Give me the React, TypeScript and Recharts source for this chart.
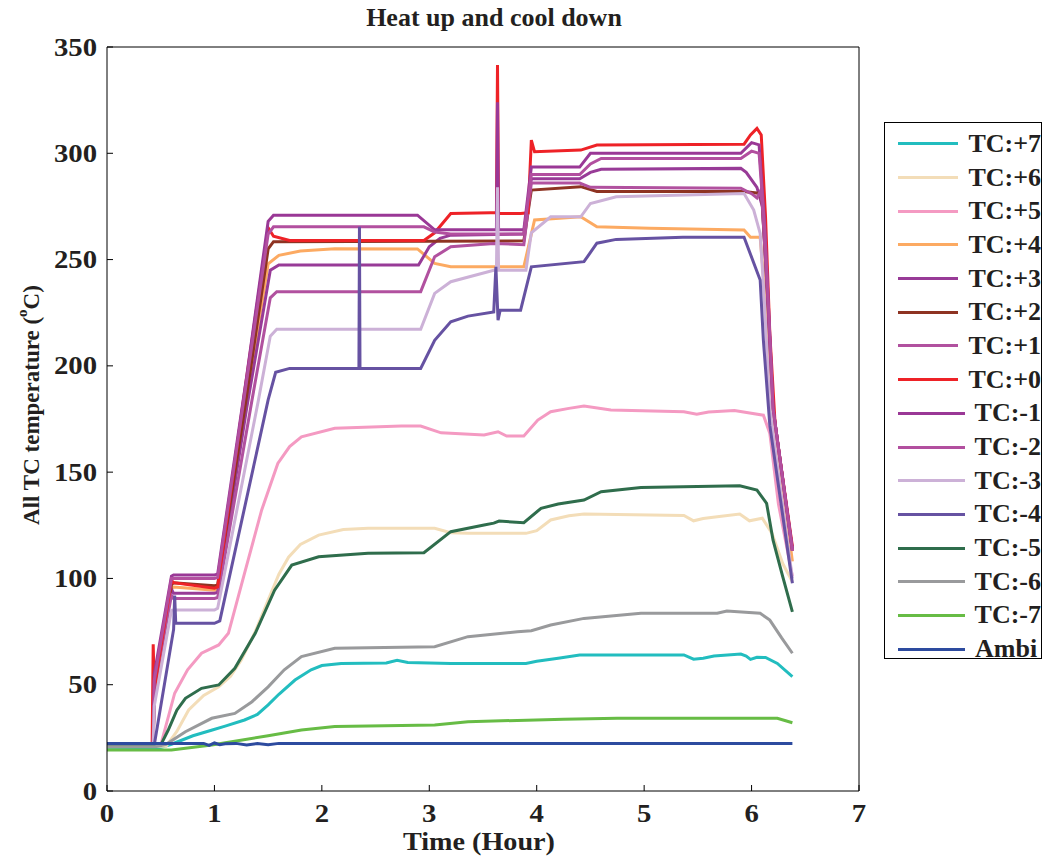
import React from 'react';
import { LineChart, Line, XAxis, YAxis } from 'recharts';

// time (hour) / temperature (degC) pairs
const tcP7 = [[0, 20.5], [0.5, 20.5], [0.6, 22], [0.8, 26], [0.98, 28.7], [1.1, 30.5], [1.28, 33.4], [1.4, 36], [1.5, 40.5], [1.6, 45.5], [1.75, 52.2], [1.9, 57], [2.0, 59], [2.18, 60], [2.6, 60.2], [2.7, 61.5], [2.8, 60.5], [3.2, 60], [3.9, 60], [4.0, 61], [4.2, 62.5], [4.4, 64], [5.37, 64], [5.46, 62], [5.55, 62.5], [5.65, 63.5], [5.9, 64.4], [5.95, 63.5], [5.99, 61.9], [6.05, 62.9], [6.13, 62.8], [6.24, 60], [6.38, 53.8]];
const tcP6 = [[0, 20.8], [0.55, 21], [0.65, 28], [0.76, 38.1], [0.9, 45], [1.04, 49], [1.15, 54], [1.25, 61.6], [1.38, 75], [1.5, 89.8], [1.6, 102], [1.69, 110], [1.8, 116], [1.97, 120.4], [2.2, 123], [2.43, 123.6], [3.05, 123.6], [3.2, 121.5], [3.36, 121.2], [3.9, 121.2], [4.0, 122.5], [4.13, 127.5], [4.3, 129.5], [4.44, 130.3], [5.37, 129.6], [5.46, 127.1], [5.55, 128.2], [5.68, 129], [5.89, 130.3], [5.98, 127.1], [6.1, 128.3], [6.19, 121.2], [6.29, 107], [6.38, 98.4]];
const tcP5 = [[0, 21.6], [0.5, 21.6], [0.63, 46], [0.75, 57], [0.88, 64.8], [1.04, 68.7], [1.13, 74.2], [1.28, 102.4], [1.44, 132.2], [1.59, 154.1], [1.7, 162], [1.81, 166.6], [2.12, 170.6], [2.74, 171.7], [2.92, 171.7], [3.11, 168.5], [3.51, 167.5], [3.64, 169], [3.72, 167], [3.88, 167], [4.01, 174.5], [4.13, 178.4], [4.3, 180], [4.44, 181.1], [4.69, 179.2], [5.37, 178.4], [5.49, 177.3], [5.6, 178.3], [5.84, 179], [6.11, 176.8], [6.17, 168.2], [6.25, 135], [6.38, 101]];
const tcP4 = [[0, 21.6], [0.43, 21.6], [0.44, 45], [0.6, 95], [0.62, 96], [1.0, 94.5], [1.03, 95], [1.3, 185], [1.5, 248], [1.6, 252], [1.8, 254], [2.12, 255.1], [2.89, 255], [3.05, 248.2], [3.2, 246.6], [3.88, 246.6], [3.98, 268.6], [4.41, 270.1], [4.56, 265.4], [5.05, 264.7], [5.93, 263.9], [5.99, 260.5], [6.08, 260.5], [6.14, 225], [6.2, 178], [6.38, 108]];
const tcP3 = [[0, 21.6], [0.43, 21.6], [0.44, 50], [0.6, 95], [0.62, 93], [1.0, 93], [1.03, 93.5], [1.3, 180], [1.52, 245], [1.6, 247.5], [2.9, 247.4], [3.0, 256], [3.1, 260], [3.2, 261.5], [3.88, 262], [3.95, 288], [4.4, 288], [4.5, 291], [4.6, 292.5], [5.9, 292.9], [5.95, 291], [6.05, 284], [6.1, 275], [6.15, 232], [6.2, 180], [6.38, 113]];
const tcP2 = [[0, 21.6], [0.43, 21.6], [0.44, 48], [0.6, 97], [0.62, 98], [1.0, 96.5], [1.03, 97], [1.3, 186], [1.5, 255], [1.55, 258.4], [3.88, 258.8], [3.95, 282.7], [4.41, 284.3], [4.56, 282], [5.93, 282], [6.08, 281.1], [6.1, 276], [6.15, 232], [6.2, 180], [6.38, 113]];
const tcP1 = [[0, 21.6], [0.43, 21.6], [0.44, 48], [0.6, 92], [0.62, 90.6], [1.0, 90.6], [1.03, 91], [1.35, 184], [1.52, 232], [1.58, 234.9], [2.92, 234.9], [3.05, 251.3], [3.2, 256], [3.6, 257.6], [3.88, 257], [3.95, 286], [4.4, 286], [4.5, 284], [5.9, 283.6], [6.0, 281], [6.05, 279], [6.08, 282], [6.1, 276], [6.15, 232], [6.2, 180], [6.38, 113]];
const tcP0 = [[0, 21.6], [0.42, 21.6], [0.43, 69], [0.44, 48], [0.6, 99], [0.62, 98], [1.0, 95.4], [1.03, 96], [1.27, 184], [1.5, 265], [1.55, 261], [1.7, 259], [2.95, 259], [3.05, 262.6], [3.2, 271.7], [3.57, 272], [3.625, 272], [3.635, 341.5], [3.645, 271.7], [3.85, 271.7], [3.92, 272], [3.95, 306.2], [3.98, 300.7], [4.41, 301.5], [4.56, 303.9], [5.93, 304.3], [5.99, 308.6], [6.05, 311.7], [6.09, 308.6], [6.13, 270], [6.17, 215], [6.22, 172], [6.38, 115]];
const tcM1 = [[0, 21.6], [0.43, 21.6], [0.44, 55], [0.6, 101], [0.62, 101.6], [1.0, 101.6], [1.03, 102], [1.3, 195], [1.5, 268], [1.55, 270.9], [2.89, 270.9], [3.05, 264], [3.625, 264], [3.635, 324], [3.645, 264], [3.88, 264], [3.95, 293.5], [4.4, 293.5], [4.5, 300], [5.9, 300], [6.0, 305], [6.07, 304], [6.12, 268], [6.16, 225], [6.2, 180], [6.38, 114]];
const tcM2 = [[0, 21.6], [0.43, 21.6], [0.44, 52], [0.6, 100], [0.62, 100], [1.0, 100], [1.03, 100.5], [1.3, 193], [1.5, 262], [1.55, 265.4], [2.95, 265.4], [3.05, 263], [3.2, 262], [3.88, 262], [3.95, 290], [4.4, 290], [4.5, 295], [4.6, 297.6], [5.9, 297.6], [6.0, 301], [6.07, 300], [6.12, 266], [6.16, 225], [6.2, 180], [6.38, 113]];
const tcM3 = [[0, 21.6], [0.43, 21.6], [0.44, 40], [0.6, 85], [0.62, 85.1], [1.0, 85.1], [1.03, 86], [1.41, 184], [1.52, 214], [1.58, 217.2], [2.92, 217.2], [3.05, 234.1], [3.2, 239.6], [3.6, 245], [3.625, 245], [3.635, 284], [3.645, 245], [3.9, 245], [3.95, 262.6], [4.13, 270.1], [4.41, 270.1], [4.5, 276.4], [4.74, 279.5], [5.93, 281.1], [6.02, 273.3], [6.08, 262.3], [6.12, 230], [6.17, 180], [6.38, 100]];
const tcM4 = [[0, 21.6], [0.44, 21.6], [0.62, 76], [0.63, 92], [0.64, 78.9], [1.0, 78.9], [1.05, 80], [1.5, 184], [1.57, 197], [1.7, 198.8], [2.345, 198.8], [2.35, 265.4], [2.355, 198.8], [2.92, 198.8], [3.05, 212], [3.2, 220.7], [3.36, 223.4], [3.6, 225.4], [3.62, 246.6], [3.64, 221.5], [3.66, 226.2], [3.85, 226.2], [3.95, 246.6], [4.44, 249], [4.56, 257.7], [4.74, 259.5], [5.36, 260.5], [5.93, 260.5], [6.08, 240.4], [6.11, 212], [6.17, 172], [6.38, 97.7]];
const tcM5 = [[0, 21.6], [0.5, 21.6], [0.57, 28.7], [0.65, 38], [0.73, 43.6], [0.88, 48.3], [1.04, 49.9], [1.19, 57.7], [1.38, 74.2], [1.56, 94.5], [1.72, 106.3], [1.97, 110.2], [2.43, 111.8], [2.95, 112.1], [3.2, 122], [3.51, 125.1], [3.6, 126], [3.65, 127], [3.88, 126.2], [4.04, 133], [4.2, 135], [4.44, 136.9], [4.6, 140.8], [4.97, 142.8], [5.89, 143.6], [6.05, 141.6], [6.14, 135.3], [6.2, 118], [6.29, 100.8], [6.38, 84.3]];
const tcM6 = [[0, 20.8], [0.45, 20.8], [0.55, 22], [0.73, 27.9], [0.975, 34.2], [1.19, 36.5], [1.35, 42], [1.5, 49], [1.65, 57], [1.81, 63.2], [2.12, 67.1], [3.05, 67.9], [3.36, 72.6], [3.82, 74.9], [3.95, 75.4], [4.13, 78.1], [4.44, 81.2], [4.97, 83.6], [5.68, 83.6], [5.77, 84.7], [6.08, 83.6], [6.17, 80.4], [6.28, 72], [6.38, 64.8]];
const tcM7 = [[0, 19.3], [0.6, 19.3], [0.975, 21.6], [1.16, 23.2], [1.5, 26], [1.81, 28.7], [2.12, 30.3], [3.05, 31], [3.36, 32.6], [3.82, 33.2], [4.25, 33.7], [4.75, 34.2], [6.24, 34.2], [6.38, 32.1]];
const ambi = [[0, 22.4], [0.9, 22.4], [0.95, 21.5], [1.0, 22.6], [1.05, 21.8], [1.1, 22.2], [1.2, 22.4], [1.3, 21.6], [1.4, 22.3], [1.5, 21.8], [1.6, 22.4], [6.38, 22.4]];

const xTicks = [0, 1, 2, 3, 4, 5, 6, 7];
const yTicks = [0, 50, 100, 150, 200, 250, 300, 350];

const series = [
  { name: 'TC:+7', color: '#22BDBF', pts: tcP7 },
  { name: 'TC:+6', color: '#F3DDB8', pts: tcP6 },
  { name: 'TC:+5', color: '#F49AC2', pts: tcP5 },
  { name: 'TC:+4', color: '#FCAA62', pts: tcP4 },
  { name: 'TC:+3', color: '#983B97', pts: tcP3 },
  { name: 'TC:+2', color: '#8E3322', pts: tcP2 },
  { name: 'TC:+1', color: '#B1519F', pts: tcP1 },
  { name: 'TC:+0', color: '#EE2227', pts: tcP0 },
  { name: 'TC:-1', color: '#9A3896', pts: tcM1 },
  { name: 'TC:-2', color: '#B24F9F', pts: tcM2 },
  { name: 'TC:-3', color: '#CCB1D7', pts: tcM3 },
  { name: 'TC:-4', color: '#6652A2', pts: tcM4 },
  { name: 'TC:-5', color: '#2F6D4C', pts: tcM5 },
  { name: 'TC:-6', color: '#999A9C', pts: tcM6 },
  { name: 'TC:-7', color: '#67BC45', pts: tcM7 },
  { name: 'Ambi', color: '#2D4B9F', pts: ambi },
];

const FONT = "'Times New Roman', 'Liberation Serif', serif";
const INK = '#231F20';

const toData = (pts: number[][]) => pts.map(([t, v]) => ({ t, v }));

// tick labels in the original are a bit wider than plain Times, so stretch them sideways
const XTick = ({ x, y, payload }: any) => (
  <g transform={`translate(${x},${y + 21})`}>
    <text transform="scale(1.15,1)" textAnchor="middle" fontSize={25} fontWeight="bold" fill={INK} fontFamily={FONT}>
      {payload.value}
    </text>
  </g>
);

const YTick = ({ x, y, payload }: any) => (
  <g transform={`translate(${x},${y + 8.5})`}>
    <text transform="scale(1.15,1)" textAnchor="end" fontSize={25} fontWeight="bold" fill={INK} fontFamily={FONT}>
      {payload.value}
    </text>
  </g>
);

export default function App() {
  return (
    <div style={{ position: 'absolute', left: 0, top: 0, width: 1052, height: 863, background: '#fff', fontFamily: FONT }}>
      <div style={{ position: 'absolute', left: 294, top: 5, width: 400, textAlign: 'center', fontSize: 26, lineHeight: '26px', fontWeight: 'bold', color: INK }}>
        Heat up and cool down
      </div>

      <LineChart width={1052} height={863} margin={{ top: 46, right: 192, bottom: 0, left: 0 }}>
        <XAxis
          dataKey="t" type="number" domain={[0, 7]} ticks={xTicks} allowDataOverflow
          height={72} tickSize={-6} tickMargin={16} tick={<XTick />}
          axisLine={{ stroke: '#000' }} tickLine={{ stroke: '#000' }}
          label={{ content: () => <text x={479} y={850} textAnchor="middle" fontSize={26} textLength={152} lengthAdjust="spacingAndGlyphs" fontWeight="bold" fill={INK} fontFamily={FONT}>Time (Hour)</text> }}
        />
        <XAxis
          xAxisId="top" orientation="top" type="number" domain={[0, 7]} ticks={xTicks}
          height={1} tickSize={-6} tick={false} axisLine={{ stroke: '#000' }} tickLine={{ stroke: '#000' }}
        />
        <YAxis
          type="number" domain={[0, 350]} ticks={yTicks} allowDataOverflow
          width={107} tickSize={-6} tickMargin={16} tick={<YTick />}
          axisLine={{ stroke: '#000' }} tickLine={{ stroke: '#000' }}
          label={{
            content: () => (
              <text x={31} y={405} transform="rotate(-90 31 405)" textAnchor="middle" dominantBaseline="central" fontSize={23} fontWeight="bold" fill={INK} fontFamily={FONT}>
                All TC temperature (<tspan dy={-9} fontSize={15}>o</tspan><tspan dy={9}>C)</tspan>
              </text>
            ),
          }}
        />
        <YAxis
          yAxisId="right" orientation="right" type="number" domain={[0, 350]} ticks={yTicks}
          width={1} tickSize={-6} tick={false} axisLine={{ stroke: '#000' }} tickLine={{ stroke: '#000' }}
        />
        {series.map((s) => (
          <Line
            key={s.name} name={s.name} data={toData(s.pts)} dataKey="v" type="linear"
            stroke={s.color} strokeWidth={3} dot={false} activeDot={false} isAnimationActive={false}
          />
        ))}
      </LineChart>

      <div style={{ position: 'absolute', left: 884, top: 122, width: 158, height: 537, border: '1.5px solid #000', boxSizing: 'border-box', paddingTop: 4 }}>
        {series.map((s) => (
          <div key={s.name} style={{ height: 33.7, display: 'flex', alignItems: 'center', whiteSpace: 'nowrap' }}>
            <span style={{ display: 'inline-block', marginLeft: 13, width: 67, height: 3, background: s.color }} />
            <span style={{ marginLeft: 10, fontSize: 26, fontWeight: 'bold', color: INK, lineHeight: '26px' }}>{s.name}</span>
          </div>
        ))}
      </div>
    </div>
  );
}
